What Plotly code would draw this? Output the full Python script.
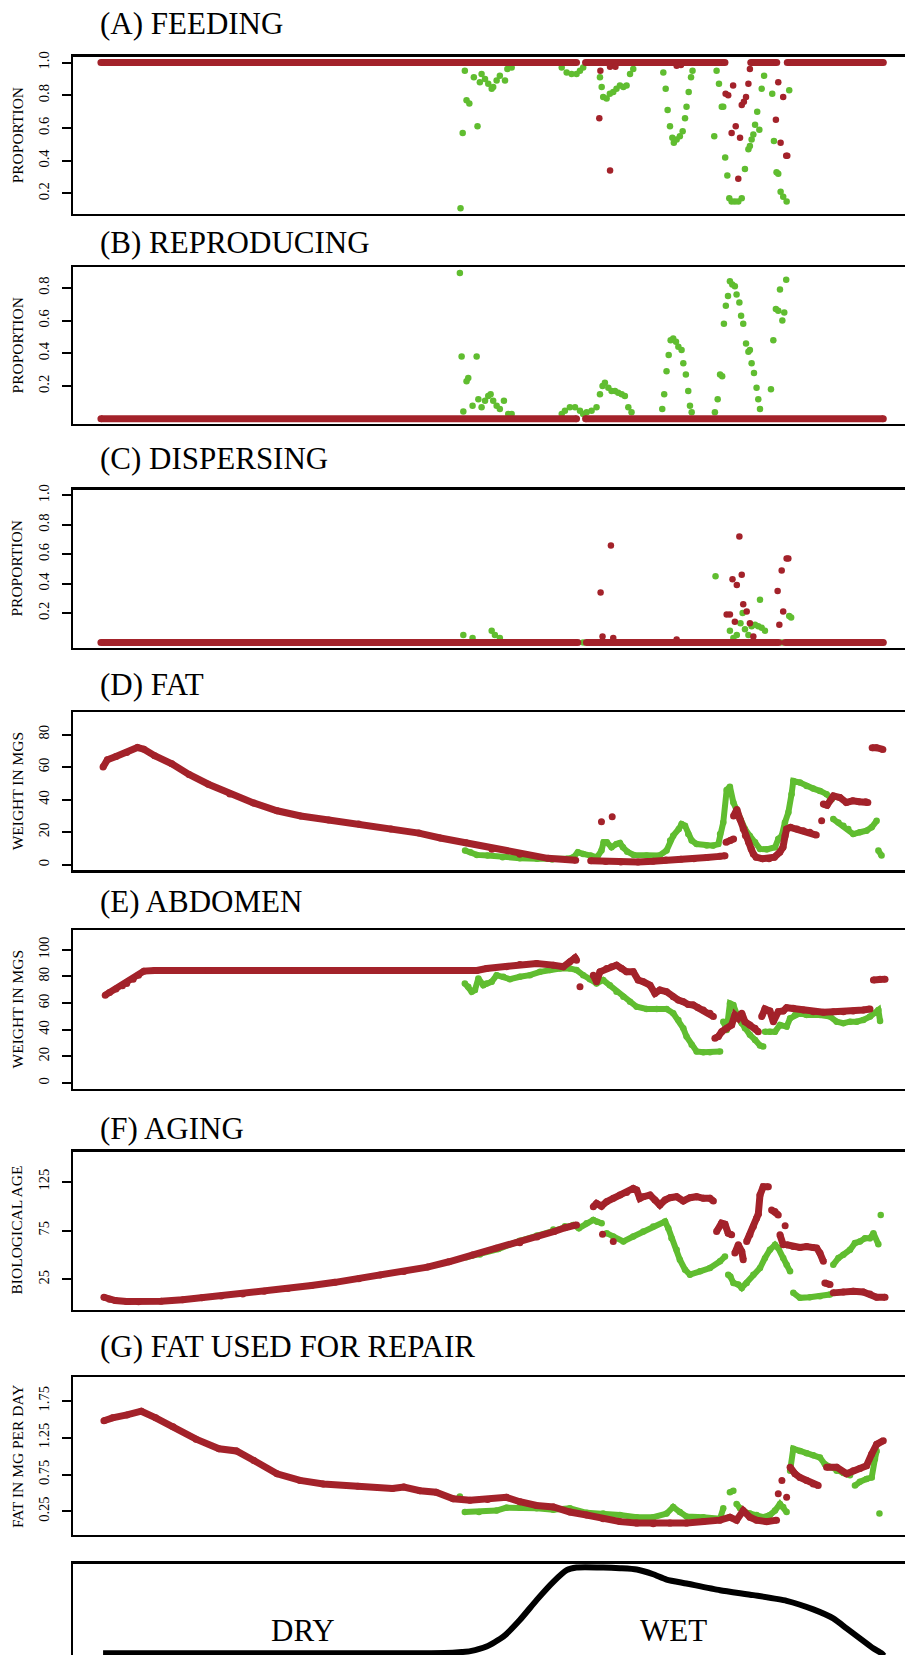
import plotly.graph_objects as go

RED = "#A3222A"
GREEN = "#60BD30"
SERIF = "Liberation Serif, Times New Roman, serif"

# ---------------- DATA (day of simulation, value) ----------------
# (A) FEEDING
A_RED_BAND_DAY = [0, 221.4, None, 225.6, 290.5, None, 302.5, 314.6, None, 319.5, 364.2]
A_RED_BAND_VAL = [1.0, 1.0, None, 1.0, 1.0, None, 1.0, 1.0, None, 1.0, 1.0]
A_RED_DAY = [232.5, 237, 239.5, 268, 270, 232, 237, 290.8, 292, 293.6, 294.3, 295.5, 296.7, 297.5, 298.3,
             299.3, 300.3, 301.4, 302.1, 314.2, 315.3, 316.4, 317.6, 319.0, 319.5]
A_RED_VAL = [0.95, 0.975, 0.975, 0.98, 0.985, 0.66, 0.34, 0.81, 0.80, 0.57, 0.86, 0.61, 0.29, 0.54, 0.74,
             0.76, 0.79, 0.87, 0.96, 0.65, 0.88, 0.51, 0.79, 0.43, 0.43]
A_GRN_DAY = [167.4, 168.4, 169.4, 170.2, 171.5, 173.6, 175.3, 176.4, 177.2, 178.8, 180.3, 181.9, 182.6, 184.2,
             185.7, 188.1, 189.2, 191.2,
             214.5, 216.8, 219.1, 221.4, 223.0, 224.5,
             232.3, 233.1, 233.8, 235.4, 236.9, 238.5, 240.0, 241.6, 243.2, 244.7, 246.3, 247.8,
             261.8, 262.9, 263.8, 264.9, 266.0, 266.7, 268.0, 269.5, 270.8, 271.9, 272.6, 273.6, 274.7, 275.4,
             285.5, 286.6, 287.7, 289.0, 289.7, 290.6, 291.6, 292.5, 293.6, 295.1, 296.7, 298.3, 299.8, 301.4,
             302.1, 302.9, 303.7, 304.5, 305.5, 306.5, 307.6, 308.7, 312.5, 313.3, 314.5, 315.3, 316.4, 317.6,
             319.2, 320.4]
A_GRN_VAL = [0.11, 0.57, 0.95, 0.77, 0.75, 0.91, 0.61, 0.88, 0.93, 0.90, 0.87, 0.84, 0.85, 0.89,
             0.92, 0.89, 0.96, 0.97,
             0.97, 0.94, 0.93, 0.93, 0.95, 0.97,
             0.91, 0.85, 0.79, 0.78, 0.81, 0.82, 0.84, 0.86, 0.85, 0.86, 0.93, 0.96,
             0.94, 0.84, 0.71, 0.61, 0.54, 0.51, 0.53, 0.55, 0.58, 0.66, 0.73, 0.82, 0.91, 0.95,
             0.55, 0.95, 0.87, 0.73, 0.73, 0.42, 0.31, 0.17, 0.15, 0.15, 0.15, 0.17, 0.35, 0.47,
             0.49, 0.53, 0.56, 0.62, 0.70, 0.59, 0.84, 0.92, 0.81, 0.52, 0.33, 0.32, 0.21, 0.18,
             0.15, 0.83]

# (B) REPRODUCING
B_RED_BAND_DAY = [0, 221.4, None, 225.6, 364.2]
B_RED_BAND_VAL = [0.0, 0.0, None, 0.0, 0.0]
B_GRN_DAY = [167.1, 167.9, 174.9, 170.2, 171.0, 168.7,
             173.0, 175.7, 177.2, 178.8, 180.3, 181.4, 182.6, 184.2, 185.7, 187.6, 189.6, 191.2,
             214.5, 216.0, 218.3, 220.7, 223.0, 224.5, 226.1, 228.4, 230.7, 232.3, 233.5, 234.6, 236.2, 237.7,
             239.3, 240.8, 242.4, 243.9, 245.5, 247.0,
             261.3, 262.2, 263.3, 264.3, 265.2, 266.4, 267.7, 268.8, 270.3, 271.1, 272.3, 273.4, 274.2, 275.0,
             285.8, 287.1, 288.2, 289.2, 290.0, 290.9, 291.9, 292.8, 293.9, 295.1, 295.9, 297.2, 298.0, 299.0,
             300.3, 301.4, 302.1, 302.9, 304.0, 305.2, 306.0, 306.8, 311.9, 313.0, 314.2, 315.3, 316.1, 317.2,
             318.1, 319.0]
B_GRN_VAL = [0.89, 0.38, 0.38, 0.23, 0.25, 0.045,
             0.08, 0.12, 0.07, 0.11, 0.14, 0.15, 0.11, 0.08, 0.06, 0.11, 0.03, 0.03,
             0.03, 0.05, 0.07, 0.07, 0.05, 0.03, 0.04, 0.05, 0.07, 0.15, 0.20, 0.22, 0.19, 0.17,
             0.17, 0.16, 0.15, 0.14, 0.07, 0.04,
             0.06, 0.15, 0.29, 0.39, 0.48, 0.49, 0.47, 0.44, 0.42, 0.34, 0.27, 0.17, 0.08, 0.04,
             0.04, 0.12, 0.27, 0.26, 0.58, 0.69, 0.75, 0.84, 0.82, 0.81, 0.76, 0.71, 0.63, 0.58,
             0.46, 0.41, 0.42, 0.34, 0.28, 0.19, 0.12, 0.06, 0.18, 0.48, 0.67, 0.66, 0.79, 0.60,
             0.65, 0.85]

# (C) DISPERSING
C_RED_BAND_DAY = [0, 222, None, 226, 315.5, None, 318.5, 364.2]
C_RED_BAND_VAL = [0.0, 0.0, None, 0.0, 0.0, None, 0.0, 0.0]
C_RED_DAY = [232.6, 237.4, 233.5, 238.5, 268, 297.2, 294, 296, 298.3, 291.3, 292.8, 299, 300.6, 295.1,
             302.1, 303.7, 315, 316.9, 319.2, 320, 317.6, 315.8]
C_RED_VAL = [0.34, 0.66, 0.04, 0.03, 0.02, 0.72, 0.43, 0.39, 0.46, 0.19, 0.19, 0.26, 0.21, 0.14,
             0.13, 0.04, 0.35, 0.49, 0.57, 0.57, 0.21, 0.12]
C_GRN_DAY = [168.7, 173.0, 181.9, 183.4, 185.7, 224.5, 286.1, 306.8, 320.4, 321.3, 298.7, 297.7, 299.8,
             292.8, 294.4, 296.0, 301.4, 302.9, 304.5, 306.0, 307.6, 309.1, 317.0]
C_GRN_VAL = [0.05, 0.03, 0.08, 0.05, 0.03, 0.0, 0.45, 0.29, 0.18, 0.17, 0.20, 0.13, 0.09,
             0.08, 0.03, 0.05, 0.05, 0.11, 0.12, 0.11, 0.10, 0.08, 0.0]

# (D) FAT
D_RED_DAY = [1, 3, 7, 12, 17, 20, 25, 33, 41, 50, 60, 71, 82, 93, 106, 120, 135, 148, 158, 170, 182, 195, 208, 221,
             None, 228, 235, 242, 250, 257, 263, 270, 276, 282, 288, 290.5,
             None, 233, None, 238,
             None, 291, 293, 294.5,
             None, 294.5, 296, 297.5, 299, 300, 301.5, 302.7, 303.7, 305, 308, 311, 313.5, 316, 317.5, 318.5,
             319.2, 321, 324, 327, 330, 333,
             None, 335.5,
             None, 336.3, 338, 341, 344, 347, 350, 353, 356, 357,
             None, 359, 361, 364]
D_RED_VAL = [60, 64.5, 66.5, 69, 72, 71, 67, 62, 55.5, 49.5, 43.5, 38, 33.2, 30, 27.5, 25, 22, 19.5, 16.5, 13.5,
             9.5, 6.5, 4, 2.8,
             None, 2.5, 2, 1.8, 1.8, 2.2, 3, 3.5, 3.8, 4.5, 5.2, 5.6,
             None, 26.5, None, 29.5,
             None, 13.8, 14.9, 15.9,
             None, 30, 34, 28, 22, 18, 13.8, 9.8, 6.7, 4.7, 3.7, 3.7, 4.7, 7.7, 10.8, 17.9,
             22, 23, 22, 21, 20, 18.3,
             None, 27,
             None, 37.3, 36.6, 42.3, 41.3, 38.3, 39.3, 38.7, 38.7, 38.3,
             None, 71.9, 71.9, 70.8]
D_GRN_DAY = [169.5, 172, 175, 180, 187, 195, 203, 210, 217, 220, 222, 224.5, 228, 231, 233, 234, 235.5, 237.7,
             240, 241.6, 243, 245, 248, 254, 260, 263.3, 265, 266.4, 269, 270.3, 271.9, 273.4, 275, 277.3,
             282, 285, 287.4, 288.2, 289.7, 291.3, 292.8, 294.4, 296, 297.5, 299.8, 302, 304.5, 306.8,
             310, 313.8, 315.3, 316.9, 318.4, 320, 321.5, 322.3, 325.4, 328.5, 331.6, 334.7, 337.8, 340.2,
             None, 340.9, 343.3, 345.6, 347.9, 350.2, 353.3, 356.4, 358.8, 361.1,
             None, 361.9, 363.4]
D_GRN_VAL = [8.8, 7.7, 6.1, 5.7, 4.7, 4.1, 3.7, 3.3, 3.7, 4.7, 7.7, 6.7, 5.7, 4.7, 8.8, 13.8, 13.8, 10.8,
             12.8, 13.4, 10.8, 8.1, 6.1, 5.7, 5.7, 8.8, 14.9, 17.9, 22, 25, 24, 18.9, 14.9, 12.8,
             11.8, 11.8, 12.8, 18.9, 26, 46, 48, 38.3, 33.2, 28.1, 22, 17.9, 13.8, 9.8,
             9.5, 10.8, 15.9, 17.9, 26, 32.2, 43.4, 51.5, 50.5, 48.4, 46.8, 45.4, 43.4, 40.3,
             None, 28.1, 26, 24, 22, 18.9, 20, 21, 23, 27,
             None, 8.8, 5.7]

# (E) ABDOMEN
E_RED_DAY = [2, 4, 7, 10, 12, 15, 17.5, 20, 25, 50, 90, 130, 175, 179.5, 188.8, 195, 202.8, 210.6, 215.2,
             218.3, 220.7, 221.4,
             None, 223,
             None, 229.2, 230.7, 232.3, 235.4, 237.7, 240, 242.4, 244.7, 247.8, 250.1, 252.5, 255.6, 257.9,
             260.2, 263.3, 266.4, 268.8, 271.1, 273.4, 275.7, 278, 280.4, 283.5, 285.1,
             None, 285.8, 287.4, 289, 291.3, 293.6, 295.1, 296.7, 298.3, 299.8, 302.1, 304.5, 306,
             None, 307.6, 309.1, 311.4, 313, 315.3, 317.6, 319.2, 322.3, 327, 331.6, 336.3, 341, 345.6,
             350.2, 354.9, 358,
             None, 359.6, 362.7, 365]
E_RED_VAL = [66, 68, 70.6, 73, 74.8, 78, 81, 84, 84.5, 84.5, 84.5, 84.5, 84.5, 86, 87.3, 89, 89.8, 88.5, 87.3,
             91, 94, 92.2,
             None, 72.3,
             None, 81, 76, 83.5, 86, 87.3, 88.5, 86, 83.5, 83.5, 77.3, 76, 73.5, 67.3,
             69.8, 68.6, 64.8, 62.3, 61.1, 59, 58.6, 56.6, 54.8, 52.4, 49.9,
             None, 33.7, 34.9, 38.6, 41.1, 43.6, 51.1, 48.6, 52.4, 46.1, 43.6, 41.1, 38.6,
             None, 49.9, 55.6, 54.1, 46.1, 53.6, 54.1, 56.6, 56.1, 54.8, 53.6, 53.1, 53.6, 53.6,
             54.1, 54.8, 55.6,
             None, 77.3, 78, 78]
E_GRN_DAY = [169.4, 171, 172.6, 174.1, 175.7, 178, 179.5, 181.9, 184.2, 187.3, 190.4, 195, 199.7, 204.4, 209,
             213.7, 218.3, 221.4, 224.5, 227.6, 230.7, 233.8, 236.9, 240, 243.2, 246.3, 249.4, 254, 258.7,
             263.3, 266.4, 268.8, 271.1, 272.6, 275, 277.3, 280.4, 283.5, 288.2,
             None, 289.7, 291.3, 292.8, 294.4, 296.7, 298.3, 299.8, 302.1, 304.5, 306.8, 308.3,
             None, 309.1, 311.4, 313.8, 316.1, 319.2, 320.8, 323.1, 325.4, 328.5, 334.7, 339.4, 342.5, 345.6,
             348.7, 351.8, 354.9, 358, 361.9, 362.7]
E_GRN_VAL = [74.8, 72.3, 68.6, 69.8, 78.5, 73.5, 74.8, 76, 81, 79.8, 78, 79.8, 81, 83.5, 84.8,
             86, 86, 84.8, 81, 78, 74.8, 77.3, 73.5, 68.6, 64.8, 61.1, 57.3, 55.6, 55.6,
             55.6, 52.4, 47.4, 41.1, 34.9, 28.7, 23.7, 23.2, 23.2, 23.7,
             None, 46.1, 39.9, 59.8, 58.6, 48.6, 44.9, 41.1, 36.2, 32.4, 28.2, 27.4,
             None, 38.6, 38.6, 38.6, 43.6, 42.4, 48.6, 51.1, 52.4, 51.1, 51.1, 49.9, 46.1, 44.9,
             46.1, 46.1, 47.4, 49.9, 54.8, 46.6]

# (F) AGING
F_RED_DAY = [1.4, 4, 6.7, 12, 17.5, 28, 38, 47, 56, 66, 76, 87, 98, 109, 120, 130, 141, 152, 162, 173, 184, 195,
             203, 211, 216, 221.4,
             None, 229.2, 230.7, 233, 235.4, 238.5, 241.6, 244.7, 247.8, 249.4, 250.9, 252.5, 255.6, 257.9,
             260.2, 262.6, 264.9, 268, 271.1, 274.2, 277.3, 280.4, 283.5, 285.1,
             None, 233.5, None, 238.5,
             None, 286.6, 288.9, 290.5, 292, 293.6,
             None, 295.1, 296.7, 298.3, 299,
             None, 300.6, 302.1, 303.7, 305.2, 306, 306.8, 308.3, 310.7,
             None, 312.2, 313.8, 315.3,
             None, 316.1, 317.6,
             None, 318.5,
             None, 319.2, 322.3, 325.4, 328.5, 331.6, 333.2, 334.7, 336.3,
             None, 337, 339.4,
             None, 340.9, 345.6, 350.2, 354.9, 358, 361.1, 365]
F_RED_VAL = [6.6, 4.5, 3.2, 2.3, 1.9, 2.6, 4, 6, 8, 10, 12.7, 15.5, 18.6, 21.9, 25.7, 29.5, 33, 37.5, 43, 50,
             56.8, 62.5, 68.5, 74, 77.8, 80.8,
             None, 99.5, 102.8, 100, 104.6, 108, 111.4, 114.1, 118.2, 116.5, 108, 109.7, 111.4, 106.3,
             101.2, 106.3, 108.7, 109.7, 105.3, 108.7, 109.7, 108, 108, 105.3,
             None, 71.3, None, 63.8,
             None, 74, 82.5, 81.5, 72.3, 70.6,
             None, 51.9, 60.4, 53.6, 45.1,
             None, 63.8, 70.6, 79.1, 87.6, 91.7, 111.4, 119.9, 119.9,
             None, 96.1, 94.4, 91,
             None, 70.6, 60.4,
             None, 80,
             None, 60.4, 58.7, 57.7, 58.7, 57.7, 57, 51.9, 43.4,
             None, 21.3, 19.6,
             None, 11.1, 12.1, 12.8, 12.1, 10, 6.6, 6.6]
F_GRN_DAY = [170, 176.4, 185, 195, 203, 210.6, 216, 219.9, 222.5, 226.1, 229.2, 231, 233.1,
             None, 235.4, 238.5, 243.2, 247.8, 252.5, 257.1, 262.6, 264.1, 265.6, 268, 269.5, 271.9, 274.2,
             278.9, 283.5, 288.2, 290.5,
             None, 292, 293, 294.4, 296.7, 298.3, 300.6, 303.7, 306.8, 309.1, 311.4, 313.8, 315.3, 317.6,
             319.2, 320.8,
             None, 322.3, 325.4, 330, 334.7, 339.4,
             None, 340.9, 343.3, 345.6, 348.7, 351, 353.3, 355.7, 358, 359.6, 361.9,
             None, 363]
F_GRN_VAL = [47.5, 50.5, 56, 64.5, 70, 76, 79.5, 80.8, 77.4, 82.5, 85.9, 84, 82.5,
             None, 72.3, 68.9, 63.8, 68.9, 74, 79.1, 84.2, 77.4, 67.2, 55.3, 45.1, 34.9, 29.8,
             33.2, 36.6, 43.4, 48.5,
             None, 29.8, 28, 21.3, 19.6, 16.2, 21.3, 29.8, 36.6, 46.8, 55.3, 60.4, 57, 46.8,
             40, 33.2,
             None, 11.1, 6, 6.6, 7.7, 9.4,
             None, 40, 46.8, 50.2, 55.3, 62.1, 63.8, 67.2, 67.2, 72.3, 61,
             None, 91]

# (G) FAT USED FOR REPAIR
G_RED_DAY = [1.4, 5.4, 12.1, 18.8, 25.5, 33.6, 44.3, 55, 63.1, 71.2, 82, 92.7, 103.5, 119.6, 135.7, 141, 148.5,
             156, 164, 171.8, 180, 188.8, 195, 202.8, 210.6, 218.3, 226.1, 233.8, 241.6, 249.4, 257.1,
             264.9, 272.6, 280.4, 288.2, 292.8, 295.9, 299, 302.1, 305.2, 309.9, 314.5,
             None, 315.3, None, 317, None, 319.2,
             None, 320.8, 323.1, 325.4, 328.5, 331.6, 333.9,
             None, 337.8, 342.5, 347.1, 350.2, 353.3, 356.4, 358.8, 361.1, 364.2]
G_RED_VAL = [1.48, 1.52, 1.56, 1.61, 1.52, 1.40, 1.23, 1.10, 1.07, 0.94, 0.76, 0.67, 0.62, 0.59, 0.56, 0.58,
             0.53, 0.51, 0.42, 0.40, 0.41, 0.44, 0.38, 0.33, 0.31, 0.24, 0.20, 0.15, 0.11, 0.09, 0.08,
             0.09, 0.09, 0.11, 0.13, 0.17, 0.13, 0.26, 0.17, 0.13, 0.11, 0.13,
             None, 0.49, None, 0.67, None, 0.44,
             None, 0.85, 0.76, 0.71, 0.67, 0.62, 0.60,
             None, 0.85, 0.85, 0.76, 0.80, 0.83, 0.87, 1.03, 1.16, 1.21]
G_GRN_DAY = [167.1,
             None, 169.4, 176, 184.2, 188.8, 195, 202.8, 210.6, 218.3, 226.1, 233.8, 241.6, 249.4, 257.1,
             263.3, 266.4, 269.5, 272.6, 280.4, 288.2, 289.7,
             None, 292.8, 294.4,
             None, 295.9, 297.5, 299.8, 302.1, 305.2, 308.3, 311.4, 313.8, 316.1, 317.6, 319.2,
             None, 320.8, 322.3, 325.4, 328.5, 331.6, 334.7, 337, 339.4, 342.5, 345.6, 348.7,
             None, 351, 353.3, 356.4, 358.8, 360.3, 361.1,
             None, 362.4]
G_GRN_VAL = [0.45,
             None, 0.24, 0.24, 0.26, 0.30, 0.30, 0.29, 0.27, 0.29, 0.23, 0.22, 0.20, 0.17, 0.17,
             0.22, 0.31, 0.24, 0.18, 0.17, 0.15, 0.29,
             None, 0.51, 0.53,
             None, 0.35, 0.29, 0.24, 0.22, 0.20, 0.17, 0.20, 0.26, 0.35, 0.31, 0.24,
             None, 0.80, 1.10, 1.07, 1.04, 1.01, 0.98, 0.89, 0.85, 0.80, 0.77, 0.74,
             None, 0.60, 0.65, 0.69, 0.71, 0.96, 1.07,
             None, 0.22]

# Season (rainfall) profile
RAIN_DAY = [1, 60, 120, 160, 168, 172, 179.5, 187.3, 195, 202.8, 210.6, 216.8, 221.4, 233.8, 241.6, 249.4,
            257.1, 263.3, 272.6, 288.2, 303.7, 319.2, 331.6, 340.9, 347.1, 353.3, 359.5, 363.4, 364.5]
RAIN_VAL = [0, 0, 0, 0.3, 1.5, 2.5, 7.8, 19.4, 38.8, 62, 83.3, 96.9, 100, 100, 99.2, 97.7,
            92.2, 86, 81.4, 73.6, 67.8, 61.2, 51.2, 40.7, 29.1, 17.4, 5.8, 0, -3]
SEASON_LABELS = ["DRY", "WET"]
SEASON_LABEL_DAY = [94, 266.5]
SEASON_LABEL_VAL = [26, 26]

TITLES = ["(A) FEEDING", "(B) REPRODUCING", "(C) DISPERSING", "(D) FAT", "(E) ABDOMEN", "(F) AGING",
          "(G) FAT USED FOR REPAIR"]
YLABELS = ["PROPORTION", "PROPORTION", "PROPORTION", "WEIGHT IN MGS", "WEIGHT IN MGS", "BIOLOGICAL AGE",
           "FAT IN MG PER DAY"]
TICKS = [[0.2, 0.4, 0.6, 0.8, 1.0], [0.2, 0.4, 0.6, 0.8], [0.2, 0.4, 0.6, 0.8, 1.0],
         [0, 20, 40, 60, 80], [0, 20, 40, 60, 80, 100], [25, 75, 125], [0.25, 0.75, 1.25, 1.75]]
TICK_TEXT = [["0.2", "0.4", "0.6", "0.8", "1.0"], ["0.2", "0.4", "0.6", "0.8"],
             ["0.2", "0.4", "0.6", "0.8", "1.0"], ["0", "20", "40", "60", "80"],
             ["0", "20", "40", "60", "80", "100"], ["25", "75", "125"], ["0.25", "0.75", "1.25", "1.75"]]
Y_RANGES = [[0.075, 1.035], [-0.03, 0.926], [-0.035, 1.04], [-3.4, 93.6], [-4.2, 114.7], [-6, 156],
            [-0.07, 2.07]]

# ---------------- LAYOUT GEOMETRY (pixels) ----------------
W, H = 905, 1655
PLOT_LEFT = 73
PANEL_TOP = [52, 263, 486, 709.5, 928, 1150, 1376.5]
PANEL_BOT = [209.5, 420, 644.5, 868, 1087, 1308.5, 1534.5]
TITLE_Y = [19, 238, 455, 682, 899, 1127, 1346]
RAIN_TOP = 1563.5
X_RANGE = [-13, 374.3]

fig = go.Figure()


def ax(i):
    return ("x" if i == 1 else f"x{i}"), ("y" if i == 1 else f"y{i}")


def markers(i, x, y, color, size=6.5):
    xa, ya = ax(i)
    fig.add_trace(go.Scatter(x=x, y=y, mode="markers", xaxis=xa, yaxis=ya,
                             marker=dict(color=color, size=size, line=dict(width=0)),
                             hoverinfo="skip"))


def band(i, x, y, color, width=6.5, msize=7):
    xa, ya = ax(i)
    fig.add_trace(go.Scatter(x=x, y=y, mode="lines+markers", xaxis=xa, yaxis=ya,
                             line=dict(color=color, width=width), connectgaps=False,
                             marker=dict(color=color, size=msize, line=dict(width=0)),
                             hoverinfo="skip"))


# Panel A
markers(1, A_GRN_DAY, A_GRN_VAL, GREEN)
band(1, A_RED_BAND_DAY, A_RED_BAND_VAL, RED, width=7)
markers(1, A_RED_DAY, A_RED_VAL, RED)
# Panel B
markers(2, B_GRN_DAY, B_GRN_VAL, GREEN)
band(2, B_RED_BAND_DAY, B_RED_BAND_VAL, RED, width=7)
# Panel C
markers(3, C_GRN_DAY, C_GRN_VAL, GREEN)
band(3, C_RED_BAND_DAY, C_RED_BAND_VAL, RED, width=7)
markers(3, C_RED_DAY, C_RED_VAL, RED)
# Panels D-G
for i, (gx, gy, rx, ry) in enumerate([(D_GRN_DAY, D_GRN_VAL, D_RED_DAY, D_RED_VAL),
                                       (E_GRN_DAY, E_GRN_VAL, E_RED_DAY, E_RED_VAL),
                                       (F_GRN_DAY, F_GRN_VAL, F_RED_DAY, F_RED_VAL),
                                       (G_GRN_DAY, G_GRN_VAL, G_RED_DAY, G_RED_VAL)], start=4):
    band(i, gx, gy, GREEN, width=6, msize=6.5)
    band(i, rx, ry, RED, width=7, msize=7)

# Rain panel
fig.add_trace(go.Scatter(x=RAIN_DAY, y=RAIN_VAL, mode="lines", xaxis="x8", yaxis="y8",
                         line=dict(color="black", width=6, shape="spline", smoothing=0.6),
                         hoverinfo="skip"))

layout = dict(width=W, height=H, margin=dict(l=0, r=0, t=0, b=0), showlegend=False,
              paper_bgcolor="white", plot_bgcolor="white", font=dict(family=SERIF, color="black"))
annotations = []
xdom = [PLOT_LEFT / W, 1.0]
for k in range(7):
    i = k + 1
    xname = "xaxis" if i == 1 else f"xaxis{i}"
    yname = "yaxis" if i == 1 else f"yaxis{i}"
    ydom = [1 - PANEL_BOT[k] / H, 1 - PANEL_TOP[k] / H]
    layout[xname] = dict(domain=xdom, range=X_RANGE, anchor=ax(i)[1], showline=True, mirror=True,
                         linecolor="black", linewidth=2.5, showgrid=False, zeroline=False,
                         showticklabels=False, ticks="", fixedrange=True)
    layout[yname] = dict(domain=ydom, range=Y_RANGES[k], anchor=ax(i)[0], showline=True, mirror=False,
                         linecolor="black", linewidth=2.5, showgrid=False, zeroline=False,
                         tickmode="array", tickvals=TICKS[k], ticktext=TICK_TEXT[k],
                         ticks="outside", ticklen=9, tickwidth=2, tickcolor="black",
                         tickangle=-90, tickfont=dict(family=SERIF, size=14.5, color="black"),
                         ticklabelstandoff=7, fixedrange=True)
    annotations.append(dict(text=TITLES[k], xref="paper", yref="paper", x=98 / W, y=1 - TITLE_Y[k] / H,
                            xanchor="left", yanchor="middle", showarrow=False,
                            font=dict(family=SERIF, size=31, color="black")))
    annotations.append(dict(text=YLABELS[k], xref="paper", yref="paper", x=17 / W,
                            y=1 - (PANEL_TOP[k] + PANEL_BOT[k]) / 2 / H, xanchor="center",
                            yanchor="middle", textangle=-90, showarrow=False,
                            font=dict(family=SERIF, size=15.5, color="black")))

layout["xaxis8"] = dict(domain=xdom, range=X_RANGE, anchor="y8", side="top", showline=True, mirror=False,
                        linecolor="black", linewidth=2.5, showgrid=False, zeroline=False,
                        showticklabels=False, ticks="", fixedrange=True)
layout["yaxis8"] = dict(domain=[0, 1 - RAIN_TOP / H], range=[-2, 104.4], anchor="x8", showline=True,
                        linecolor="black", linewidth=2.5, showgrid=False, zeroline=False,
                        showticklabels=False, ticks="", fixedrange=True)
for lab, d, v in zip(SEASON_LABELS, SEASON_LABEL_DAY, SEASON_LABEL_VAL):
    annotations.append(dict(text=lab, xref="x8", yref="y8", x=d, y=v, xanchor="center", yanchor="middle",
                            showarrow=False, font=dict(family=SERIF, size=31, color="black")))
layout["annotations"] = annotations
fig.update_layout(**layout)

fig.write_html("out.html", config={"staticPlot": True},
               post_script="document.body.style.margin='0';document.body.style.overflow='hidden';")
